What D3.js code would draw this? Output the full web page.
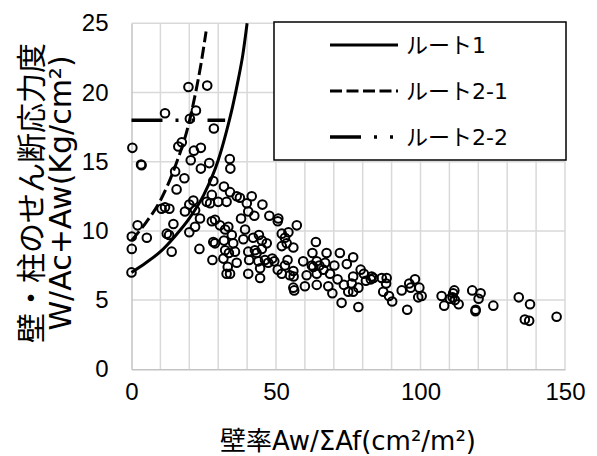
<!DOCTYPE html>
<html>
<head>
<meta charset="utf-8">
<script src="https://cdn.jsdelivr.net/npm/d3@7"></script>
<style>
  body { margin: 0; background: #fff; }
  svg { display: block; }
  text { fill: #000; }
  .title, .legend-label { font-family: "DejaVu Sans", "Noto Sans CJK JP", sans-serif; }
  .tick text { font-family: "Liberation Sans", Arial, sans-serif; }
</style>
</head>
<body>
<svg id="chart" width="597" height="456"></svg>
<script>
// Axis ticks
const xTicks = [0, 50, 100, 150];
const yTicks = [0, 5, 10, 15, 20, 25];
const xGrid = [10, 20, 30, 40, 50, 60, 70, 80, 90, 100, 110, 120, 130, 140, 150];

// Buildings: wall ratio Aw/ΣAf (cm²/m²) vs average shear stress (kg/cm²)
const samples = [
  [0.0,7.0],[0.1,8.7],[0.1,9.6],[0.3,16.0],[3.3,14.8],[3.5,14.75],[2.1,10.4],[5.3,9.5],
  [11.6,18.5],[10.4,11.6],[11.6,11.7],[13.1,11.6],[12.2,9.8],[13.0,9.7],[13.9,8.5],[14.5,10.5],
  [15.6,13.0],[15.1,14.3],[16.2,16.1],[17.4,16.4],[18.3,13.8],[18.5,11.4],[19.7,20.4],[20.2,18.1],
  [20.5,15.1],[20.0,11.9],[21.4,12.2],[22.0,11.5],[20.0,9.9],[22.0,10.3],[21.6,15.8],[22.3,18.7],
  [23.7,10.9],[23.5,8.7],[24.0,16.0],[24.0,14.5],
  [26.2,20.5],[26.9,14.9],[28.5,17.4],[28.3,13.6],[26.0,12.1],[27.2,12.0],[27.8,12.6],[30.0,12.1],
  [32.0,13.2],[34.1,12.8],[32.9,12.1],[34.0,15.2],[34.2,14.5],[36.4,12.5],[37.5,12.4],[41.6,12.5],
  [27.8,10.7],[28.9,10.8],[30.6,10.4],[32.4,10.1],[33.5,10.3],[28.3,9.2],[28.9,9.1],[32.0,9.3],
  [34.7,9.7],[35.2,9.1],[32.4,8.6],[35.8,8.5],[33.7,8.4],[28.0,7.9],[31.8,8.0],[33.3,7.4],
  [32.9,6.9],[34.1,6.9],
  [39.9,12.0],[45.3,11.9],[37.9,10.9],[40.4,11.4],[42.5,11.1],[47.7,11.1],[50.8,10.9],[50.6,10.7],
  [57.2,10.4],[39.3,10.1],[52.0,9.8],[54.3,9.9],[38.7,9.4],[42.1,9.5],[44.1,9.7],[45.1,9.3],
  [53.1,9.5],[46.8,9.1],[52.0,8.9],[53.7,9.1],[56.0,8.8],[63.8,9.2],[40.4,8.5],[42.7,8.6],
  [43.3,8.4],[45.1,8.7],[62.6,8.4],[67.5,8.4],[72.1,8.4],[36.4,7.7],[40.7,7.9],[43.9,7.8],
  [46.2,7.9],[48.7,8.0],[49.4,7.8],[47.3,7.7],[54.0,7.9],[59.4,7.8],[62.4,7.5],[64.1,7.8],
  [67.0,7.7],[70.2,7.5],[65.0,7.5],[44.5,7.3],[50.6,7.2],[53.1,7.5],[62.9,7.4],[66.4,7.2],
  [40.4,6.9],[52.0,6.9],[54.8,6.8],[56.0,7.1],[60.6,6.8],[64.1,6.9],[68.7,6.9],[44.5,6.6],
  [56.1,6.7],[71.3,6.5],[56.0,5.9],[56.3,5.7],[60.0,6.0],[64.1,6.1],[68.1,6.0],[69.5,5.5],
  [72.7,4.8],
  [76.7,8.1],[74.5,7.6],[73.5,6.1],[76.7,6.7],[76.2,6.2],[75.0,5.6],[76.7,5.6],[78.5,5.9],
  [79.3,7.2],[80.4,6.9],[81.1,6.4],[83.1,6.7],[83.7,6.6],[82.8,6.5],[86.6,6.6],[88.3,6.6],
  [88.1,6.2],[87.1,5.6],[89.1,5.3],[90.2,4.9],[78.5,4.5],
  [93.5,5.7],[95.4,4.3],[96.1,6.2],[96.6,5.9],[98.1,6.5],[99.6,5.9],[99.2,5.2],[100.4,5.3],
  [107.3,5.3],[108.2,4.6],[110.2,5.1],[111.1,5.2],[111.3,5.5],[111.7,5.7],[111.9,5.0],[113.2,4.7],
  [117.9,5.7],[120.8,5.5],[120.1,5.1],[119.0,4.2],[119.1,4.3],[125.2,4.6],[134.0,5.2],[137.9,4.7],
  [136.1,3.6],[137.6,3.5],[147.1,3.8]
];

// Design limit lines
const route1 = [[0,7.0],[5,7.7],[10,8.5],[15,9.6],[20,10.9],[25,12.6],[30,15.1],[33,17.3],[35,19.0],[37,21.0],[38.5,22.7],[40,25.0]];
const route21 = [[0,9.3],[5,10.6],[10,12.2],[15,14.6],[20,17.9],[22,19.8],[24,22.0],[25.8,24.4]];
const route22 = [[0,18],[32.4,18]];

const legendItems = [
  { label: "ルート1", dash: null, width: 3 },
  { label: "ルート2-1", dash: "12,4.5", width: 3 },
  { label: "ルート2-2", dash: "31,13,3,13,3,13", width: 3.5 }
];

const svg = d3.select("#chart");
const plot = { left: 131.5, right: 565, top: 23.3, bottom: 369.3 };

const x = d3.scaleLinear().domain([0, 150]).range([plot.left, plot.right]);
const y = d3.scaleLinear().domain([0, 25]).range([plot.bottom, plot.top]);

// gridlines
const grid = svg.append("g").attr("stroke", "#d9d9d9").attr("stroke-width", 1.5);
grid.selectAll("line.v").data(xGrid).join("line")
  .attr("x1", d => x(d)).attr("x2", d => x(d))
  .attr("y1", plot.top).attr("y2", plot.bottom);
grid.selectAll("line.h").data(yTicks.filter(d => d > 0)).join("line")
  .attr("x1", plot.left).attr("x2", plot.right)
  .attr("y1", d => y(d)).attr("y2", d => y(d));

// axes
const xAxis = svg.append("g").attr("transform", `translate(0,${plot.bottom})`)
  .call(d3.axisBottom(x).tickValues(xTicks).tickSize(0).tickPadding(14));
const yAxis = svg.append("g").attr("transform", `translate(${plot.left},0)`)
  .call(d3.axisLeft(y).tickValues(yTicks).tickSize(0).tickPadding(23));
[xAxis, yAxis].forEach(a => {
  a.select(".domain").attr("stroke", "#c4c4c4").attr("stroke-width", 1.5);
  a.selectAll("text").style("font-size", "24px").attr("fill", "#000");
});

// markers
svg.append("g").selectAll("circle").data(samples).join("circle")
  .attr("cx", d => x(d[0])).attr("cy", d => y(d[1])).attr("r", 4.3)
  .attr("fill", "none").attr("stroke", "#000").attr("stroke-width", 2);

// limit lines
const line = d3.line().x(d => x(d[0])).y(d => y(d[1])).curve(d3.curveMonotoneX);
const lines = svg.append("g").attr("fill", "none").attr("stroke", "#000");
[route1, route21, route22].forEach((r, i) => {
  lines.append("path").datum(r).attr("d", line)
    .attr("stroke-width", legendItems[i].width)
    .attr("stroke-dasharray", legendItems[i].dash);
});

// legend
const lg = svg.append("g");
lg.append("rect").attr("x", 274).attr("y", 22).attr("width", 292).attr("height", 138)
  .attr("fill", "#fff").attr("stroke", "#000").attr("stroke-width", 1.5);
const rowY = d3.scalePoint().domain(legendItems.map(d => d.label)).range([45, 137]);
const rows = lg.selectAll("g.row").data(legendItems).join("g")
  .attr("transform", d => `translate(0,${rowY(d.label)})`);
rows.append("line").attr("x1", 330).attr("x2", 398).attr("y1", 0).attr("y2", 0)
  .attr("stroke", "#000").attr("stroke-width", d => d.width)
  .attr("stroke-dasharray", d => d.dash);
rows.append("text").attr("class", "legend-label").attr("x", 406).attr("dy", "0.36em")
  .style("font-size", "22px").text(d => d.label);

// axis titles
svg.append("text").attr("class", "title").attr("x", 348).attr("y", 450)
  .attr("text-anchor", "middle").style("font-size", "26px").text("壁率Aw/ΣAf(cm²/m²)");
const yTitle = svg.append("text").attr("class", "title")
  .attr("transform", "translate(0,193) rotate(-90)")
  .attr("text-anchor", "middle").style("font-size", "30px");
yTitle.append("tspan").attr("x", 0).attr("y", 42).text("壁・柱のせん断応力度");
yTitle.append("tspan").attr("x", 0).attr("y", 71).text("W/Ac+Aw(Kg/cm²)");
</script>
</body>
</html>
